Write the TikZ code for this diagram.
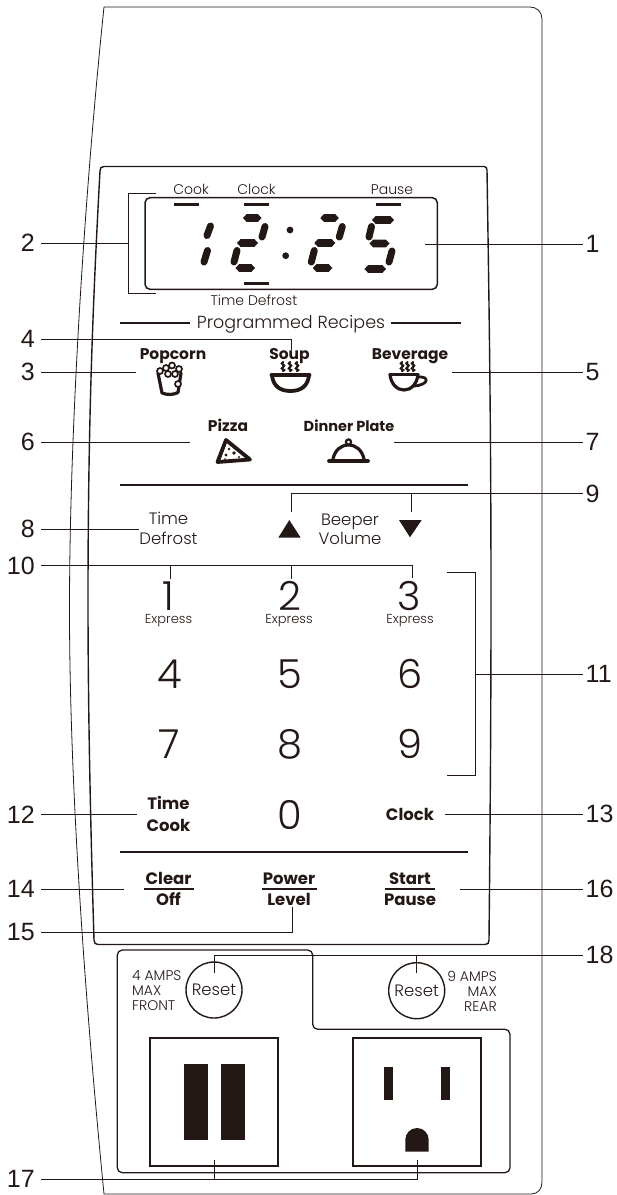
\documentclass[tikz,border=0pt]{standalone}
\usepackage{fontspec}
\setmainfont{Poppins}
\newfontfamily\numf{Liberation Sans}
\newfontfamily\lightf{Poppins Light}
\definecolor{ink}{HTML}{231815}
\tikzset{
  lead/.style={draw=ink,line width=0.9pt},
  rule/.style={draw=ink,line width=2pt},
  frame/.style={draw=ink,line width=1.3pt,rounded corners=5pt},
  numl/.style={font=\numf\fontsize{25}{25}\selectfont,text=ink,anchor=east,inner xsep=6pt,inner ysep=0pt},
  numr/.style={font=\numf\fontsize{25}{25}\selectfont,text=ink,anchor=west,inner xsep=2.5pt,inner ysep=0pt},
  base/.style={text=ink,inner sep=0pt,anchor=mid,yshift=-3.2pt},
  txt/.style={base,font=\lightf\fontsize{14}{14}\selectfont},
  txtb/.style={base,font=\bfseries\fontsize{15.5}{15.5}\selectfont},
  txtk/.style={base,font=\bfseries\fontsize{16.5}{16.5}\selectfont},
  txtm/.style={base,font=\lightf\fontsize{16.5}{16.5}\selectfont},
  exprs/.style={base,font=\lightf\fontsize{13}{13}\selectfont},
  keyd/.style={font=\lightf\fontsize{40}{40}\selectfont,text=ink,inner sep=0pt},
  amps/.style={font=\lightf\fontsize{14}{15}\selectfont,text=ink,inner sep=0pt},
  icon/.style={draw=ink,line width=3.2pt,line cap=round,line join=round},
  steam/.style={draw=ink,line width=2.2pt,line cap=round},
  seg/.style={draw=ink,line width=7pt,line cap=round},
}
\newcommand{\hseg}[3]{\fill[ink] ({#1-1},#3) -- ({#1+2.5},{#3-3.8}) -- ({#2-2.5},{#3-3.8}) -- ({#2+1},#3) -- ({#2-2.5},{#3+3.8}) -- ({#1+2.5},{#3+3.8}) -- cycle;}
\newcommand{\wiggle}[3]{\draw[steam] (#1,#2) .. controls ({#1-4},{#2+2.5}) and ({#1+4},{#2+2.5}) .. (#1,{#2+5}) .. controls ({#1-4},{#2+7.5}) and ({#1+4},{#2+7.5}) .. (#1,#3);}
\begin{document}
\begin{tikzpicture}[x=1pt,y=-1pt]
\useasboundingbox (0,0) rectangle (617,1195);
% housing
\draw[draw=ink,line width=0.8pt] (104,1194) .. controls (85,1000) and (69,780) .. (69.5,600) .. controls (70,420) and (85,190) .. (104,7) -- (530,7) .. controls (537,7) and (542,12) .. (542,19) -- (542,1182) .. controls (542,1189) and (538,1194) .. (531,1194) -- cycle;
% control panel
\draw[draw=ink,line width=1.4pt] (100,171) .. controls (100,168) and (101,166.5) .. (104,166.5) -- (484,166.5) .. controls (486,166.5) and (487,168) .. (487,170) .. controls (489,300) and (491,420) .. (491,600) .. controls (491,720) and (490,840) .. (489,940) .. controls (489,943) and (488,944.5) .. (485,944.5) -- (98,944.5) .. controls (95.5,944.5) and (94,943) .. (94,940) .. controls (91,840) and (88,720) .. (88,600) .. controls (88,420) and (93,300) .. (100,171) -- cycle;
% display
\draw[frame,line width=1.5pt] (145,197.7) rectangle (437.3,289.3);
\foreach \a/\b/\c in {174/199/204.3,244/269/204.3,376/401/204.3,244/269/283.3}
  \draw[ink,line width=3pt] (\a,\c) -- (\b,\c);
\node[txt] (tcook) at (191,189) {Cook};
\node[txt] (tclock) at (256.5,189) {Clock};
\node[txt] (tpause) at (392,189) {Pause};
\node[txt] (tdef) at (254,300) {Time Defrost};
% digits
\draw[seg] (210.5,226) -- (207,235.5); \draw[seg] (207.5,250.5) -- (204,262);
\hseg{244}{260.5}{218}
\draw[seg] (265,226.5) -- (262,237);
\hseg{238}{257}{243}
\draw[seg] (237,250.5) -- (234,262);
\hseg{236.5}{254}{268}
\hseg{321.3}{337.8}{218}
\draw[seg] (342.3,226.5) -- (339.3,237);
\hseg{315.3}{334.3}{243}
\draw[seg] (314.3,250.5) -- (311.3,262);
\hseg{313.8}{331.3}{268}
\hseg{373}{393}{220}
\draw[seg] (371.5,226.5) -- (369,237);
\hseg{370.5}{388.5}{243.5}
\draw[seg] (392,251) -- (389,262);
\hseg{365.5}{385}{269}
\fill[ink] (290,230) circle (3.4) (285.7,255.7) circle (3.4);
% programmed recipes
\node[txtm,font=\lightf\fontsize{17.5}{17.5}\selectfont] (prog) at (291,323) {Programmed Recipes};
\draw[rule] (120,323) -- (190,323);
\draw[rule] (391,323) -- (461,323);
\draw[rule] (120,484.5) -- (468,484.5);
\draw[rule] (120,851.5) -- (468,851.5);
% programme labels
\node[txtb] (pop) at (173,354) {Popcorn};
\node[txtb] (soup) at (289.5,354) {Soup};
\node[txtb] (bev) at (410,354) {Beverage};
\node[txtb] (piz) at (228,426) {Pizza};
\node[txtb,font=\bfseries\fontsize{14.5}{14.5}\selectfont] (din) at (349,426) {Dinner Plate};
% popcorn icon
\draw[icon] (158,373) -- (162,393) .. controls (167,395) and (173,395) .. (178,392.5) -- (181,373);
\foreach \x/\y in {160/371,166/368,172/365.5,179/369,168/374,175/374,178/384}
  \filldraw[draw=ink,fill=white,line width=1.7pt] (\x,\y) circle (3);
% soup icon
\draw[icon,line width=3.8pt] (271.5,375) -- (309.5,375);
\draw[icon,line width=3.8pt] (272,375) .. controls (273,386) and (280,391) .. (290.5,391) .. controls (301,391) and (308,386) .. (309,375);
\wiggle{283}{362}{371}\wiggle{290}{362}{371}\wiggle{297}{362}{371}
% beverage icon
\draw[icon] (390,374.5) -- (418,374.5);
\draw[icon] (390,374.5) .. controls (391,384) and (397,390) .. (404,390) .. controls (411,390) and (417,384) .. (418,374.5);
\draw[icon,line width=2.8pt] (418,377) .. controls (430,376) and (429,385) .. (414,386);
\wiggle{402}{362}{371}\wiggle{407.5}{362}{371}\wiggle{413}{362}{371}
% pizza icon
\filldraw[draw=ink,fill=white,line width=3.8pt,line join=round] (226,440) -- (250,459.5) -- (217.5,462) -- cycle;
\fill[ink] (226,444) -- (221,458) -- (218,459) -- cycle;
\fill[ink] (226,455) circle (1.6) (234,453) circle (1.8) (229,449) circle (1.3) (239,457) circle (1.2) (225,459) circle (1);
% cloche icon
\draw[icon] (333,459) .. controls (335,450) and (341,445) .. (348.5,445) .. controls (356,445) and (362,450) .. (364,459);
\draw[icon,line width=3.8pt] (329,461) -- (368,461);
\filldraw[draw=ink,fill=white,line width=2.2pt] (348.5,442) circle (2.6);
% beeper
\node[txtm] (tm1) at (168.5,519) {Time};
\node[txtm] (tm2) at (168.5,539) {Defrost};
\node[txtm] (bp1) at (350,520) {Beeper};
\node[txtm] (bp2) at (350,538.5) {Volume};
\fill[ink] (289.3,520) -- (278.3,537.7) -- (300.7,537.7) -- cycle;
\fill[ink] (399,520) -- (421.7,520) -- (410,537.3) -- cycle;
% keypad
\node[keyd] (k1) at (168.5,596) {1};
\node[keyd] (k2) at (289.5,596) {2};
\node[keyd] (k3) at (409.5,596) {3};
\node[exprs] (e1) at (168.5,618) {Express};
\node[exprs] (e2) at (289,618) {Express};
\node[exprs] (e3) at (410,618) {Express};
\node[keyd] (k4) at (169.5,674) {4};
\node[keyd] (k5) at (289.5,674) {5};
\node[keyd] (k6) at (410,674) {6};
\node[keyd] (k7) at (169.5,744) {7};
\node[keyd] (k8) at (289.5,744) {8};
\node[keyd] (k9) at (410,744) {9};
\node[keyd] (k0) at (289.5,815) {0};
\node[txtk] (tc1) at (168.5,804) {Time};
\node[txtk] (tc2) at (168.5,825.5) {Cook};
\node[txtk] (clk) at (410,815) {Clock};
\node[txtk] (cl1) at (168.5,879) {Clear};
\node[txtk] (cl2) at (168.5,899.5) {Off};
\node[txtk] (pw1) at (289,879) {Power};
\node[txtk] (pw2) at (289,899.5) {Level};
\node[txtk] (st1) at (410,879) {Start};
\node[txtk] (st2) at (410,899.5) {Pause};
\foreach \a/\b in {143.5/193.5,262/317,385/435}
  \draw[ink,line width=1.6pt] (\a,888.7) -- (\b,888.7);
% outlet panel
\draw[frame] (117.3,950) -- (312.7,950) -- (312.7,1029.3) -- (510,1029.3) -- (510,1172.7) -- (117.3,1172.7) -- cycle;
\node[circle,draw=ink,line width=1.4pt,minimum size=56pt,inner sep=0pt,font=\lightf\fontsize{16.5}{16.5}\selectfont,text=ink] (rs1) at (214,990) {Reset};
\node[circle,draw=ink,line width=1.4pt,minimum size=56pt,inner sep=0pt,font=\lightf\fontsize{16.5}{16.5}\selectfont,text=ink] (rs2) at (416.7,990.7) {Reset};
\node[amps,anchor=west,align=left] (a1) at (132,991) {4 AMPS\\MAX\\FRONT};
\node[amps,anchor=east,align=right] (a2) at (497,991) {9 AMPS\\MAX\\REAR};
\draw[ink,line width=2pt] (150,1038.3) rectangle (278.3,1166);
\draw[ink,line width=2pt] (353.3,1038.3) rectangle (481,1166);
\fill[ink] (184,1064) rectangle (208,1140);
\fill[ink] (221,1064) rectangle (245,1140);
\fill[ink] (384,1067) rectangle (393,1100);
\fill[ink] (441,1067) rectangle (450,1100);
\fill[ink] (405.3,1151.7) -- (405.3,1139.7) arc[start angle=180,end angle=0,radius=11.7,y radius=-11.7] -- (428.7,1151.7) -- cycle;
% number labels
\node[numl] (n2) at (41,243) {2};
\node[numl] (n3) at (41,372) {3};
\node[numl] (n4) at (41,339) {4};
\node[numl] (n6) at (41,442) {6};
\node[numl] (n8) at (41,529) {8};
\node[numl] (n10) at (41,565.7) {10};
\node[numl] (n12) at (41,814.7) {12};
\node[numl] (n14) at (41,889) {14};
\node[numl] (n15) at (41,932) {15};
\node[numl] (n17) at (41,1179.3) {17};
\node[numr] (n1) at (583,244) {1};
\node[numr] (n5) at (583,372) {5};
\node[numr] (n7) at (583,442) {7};
\node[numr] (n9) at (583,493.5) {9};
\node[numr] (n11) at (583,674) {11};
\node[numr] (n13) at (583,814) {13};
\node[numr] (n16) at (583,889) {16};
\node[numr] (n18) at (583,955) {18};
% connector ends
\coordinate (b2a) at (156,193); \coordinate (b2c) at (128,293); \coordinate (b2b) at (156,293); \coordinate (b2t) at (128,193); \coordinate (b2m) at (128,243);
\coordinate (ee1) at (425,244);
\coordinate (ee3) at (136,372);
\coordinate (ee4) at (291.7,350); \coordinate (ee5) at (452,372);
\coordinate (ee6) at (190,442); \coordinate (ee7) at (394,442);
\coordinate (ee8) at (139,529);
\coordinate (d9a) at (291,512); \coordinate (d9b) at (411.7,512);
\coordinate (d10a) at (170.5,579); \coordinate (d10b) at (291,579); \coordinate (d10c) at (412.7,578);
\coordinate (b11a) at (447,572.7); \coordinate (b11b) at (475,572.7); \coordinate (b11c) at (475,775); \coordinate (b11d) at (447,775); \coordinate (b11m) at (475,674);
\coordinate (ee12) at (137,814.7); \coordinate (ee13) at (445,814);
\coordinate (ee14) at (124,889); \coordinate (ee16) at (460,889);
\coordinate (ee15) at (292,907);
\coordinate (d18a) at (214,973); \coordinate (d18b) at (416.7,973);
\coordinate (d17a) at (214.7,1160); \coordinate (d17b) at (417,1160);
% connectors
\draw[lead] (b2a) -- (b2t) -- (b2c) -- (b2b);
\draw[lead] (n2.east) -- (b2m);
\draw[lead] (n1.west) -- (ee1);
\draw[lead] (n3.east) -- (ee3);
\draw[lead] (n4.east) -| (ee4);
\draw[lead] (n5.west) -- (ee5);
\draw[lead] (n6.east) -- (ee6);
\draw[lead] (n7.west) -- (ee7);
\draw[lead] (n8.east) -- (ee8);
\draw[lead] (n9.west) -| (d9a);
\draw[lead] (d9b) |- (n9.west);
\draw[lead] (n10.east) -| (d10c);
\draw[lead] (d10a) |- (n10.east);
\draw[lead] (d10b) |- (n10.east);
\draw[lead] (b11a) -- (b11b) -- (b11c) -- (b11d);
\draw[lead] (b11m) -- (n11.west);
\draw[lead] (n12.east) -- (ee12);
\draw[lead] (n13.west) -- (ee13);
\draw[lead] (n14.east) -- (ee14);
\draw[lead] (n16.west) -- (ee16);
\draw[lead] (n15.east) -| (ee15);
\draw[lead] (n18.west) -| (d18a);
\draw[lead] (d18b) |- (n18.west);
\draw[lead] (n17.east) -| (d17b);
\draw[lead] (d17a) |- (n17.east);
\end{tikzpicture}
\end{document}
